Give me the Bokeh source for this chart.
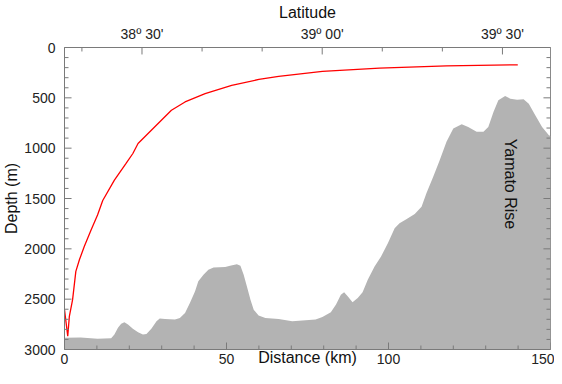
import math
from bokeh.plotting import figure
from bokeh.models import LinearAxis, Range1d, FixedTicker, Label
from bokeh.embed import file_html
from bokeh.resources import INLINE

# Bathymetry profile (distance km, depth m)
bathy_km = [0, 5.0, 10.2, 14.4, 15.4, 16.5, 17.5, 18.5, 19.6, 21.1, 22.7, 24.2, 25.3,
            26.8, 28.4, 29.4, 31.0, 34.1, 35.6, 37.2, 38.7, 40.3, 41.3, 42.9, 44.4,
            46.0, 49.6, 51.1, 53.2, 54.3, 55.3, 56.3, 57.4, 58.4, 59.9, 62.0, 66.1,
            70.3, 77.5, 79.6, 82.2, 83.8, 85.3, 86.3, 87.4, 88.9, 90.5, 92.0, 93.6,
            95.7, 97.7, 99.8, 101.9, 103.4, 105.5, 108.1, 110.2, 111.7, 113.8, 115.8,
            117.9, 120.0, 122.6, 124.6, 127.2, 129.3, 130.8, 132.4, 133.9, 136.0,
            137.6, 139.7, 141.7, 143.3, 145.3, 147.4, 149.5, 150]
bathy_depth = [2884, 2880, 2894, 2888, 2851, 2785, 2743, 2730, 2752, 2795, 2828, 2851, 2845,
               2795, 2719, 2693, 2696, 2703, 2686, 2637, 2538, 2422, 2323, 2257, 2208,
               2185, 2181, 2168, 2152, 2168, 2257, 2373, 2505, 2604, 2663, 2686, 2696,
               2719, 2703, 2677, 2631, 2554, 2455, 2432, 2472, 2531, 2488, 2432, 2307,
               2175, 2076, 1944, 1795, 1746, 1706, 1653, 1581, 1449, 1284, 1119,
               937, 805, 762, 789, 838, 838, 789, 640, 525, 482,
               508, 518, 515, 558, 673, 789, 871, 880]

# Red profile line (distance km, depth m)
red_km = [0, 1.0, 1.5, 2.5, 3.5, 4.6, 6.1, 8.2, 10.2, 11.8, 15.4, 19.0, 21.1,
          22.7, 26.8, 33.0, 37.2, 43.4, 51.6, 60.0, 66.1, 79.6, 97.2, 117.9, 139.9]
red_depth = [2604, 2868, 2670, 2505, 2224, 2109, 1977, 1812, 1663, 1520, 1317, 1152,
             1053, 954, 822, 624, 541, 459, 376, 317, 287, 238, 205, 182, 172]

# Axis ticks
dist_ticks = [0, 50, 100, 150]
dist_minor = [10, 20, 30, 40, 60, 70, 80, 90, 110, 120, 130, 140]
depth_ticks = [0, 500, 1000, 1500, 2000, 2500, 3000]
depth_minor = [d for d in range(100, 3000, 100) if d % 500]
lat_ticks = [2310, 2340, 2370]          # latitude in minutes
lat_minor = [2300, 2320, 2330, 2350, 2360]
lat_labels = ["38º 30'", "39º 00'", "39º 30'"]
lat_range = (2297.1, 2378.0)

FONT = "Liberation Sans"
AX = "#7a7a7a"
X0, X1, Y0, Y1 = 0, 150, 3000, 0

p = figure(width=554, height=368, x_range=(X0, X1), y_range=(Y0, Y1),
           output_backend="svg", toolbar_location=None,
           min_border_left=59, min_border_right=4, min_border_top=39,
           min_border_bottom=17)
p.grid.visible = False
p.outline_line_color = "#8a8a8a"
p.outline_line_width = 1
p.outline_line_alpha = 1.0
p.background_fill_color = "white"
p.border_fill_color = "white"
p.extra_x_ranges = {"lat": Range1d(*lat_range)}

p.varea(x=bathy_km, y1=bathy_depth, y2=[Y0] * len(bathy_km),
        fill_color="#b3b3b3", fill_alpha=1.0)
p.line(red_km, red_depth, line_color="#ff0000", line_width=1.3)

# inward ticks on all four sides (lengths: ~7 px major, ~4 px minor)
KM_PX = 150 / 483.0     # km per pixel of the frame
M_PX = 3000 / 303.0     # m per pixel of the frame
MAJ, MIN = 7, 4

for ticks, n in ((dist_ticks, MAJ), (dist_minor, MIN)):
    p.segment(x0=ticks, y0=[Y0] * len(ticks), x1=ticks,
              y1=[Y0 - n * M_PX] * len(ticks), line_color=AX, line_width=1)

for ticks, n in ((lat_ticks, MAJ), (lat_minor, MIN)):
    p.segment(x0=ticks, y0=[Y1] * len(ticks), x1=ticks,
              y1=[Y1 + n * M_PX] * len(ticks), line_color=AX, line_width=1,
              x_range_name="lat")

for ticks, n in ((depth_ticks, MAJ), (depth_minor, MIN)):
    p.segment(x0=[X0] * len(ticks), y0=ticks, x1=[X0 + n * KM_PX] * len(ticks),
              y1=ticks, line_color=AX, line_width=1)
    p.segment(x0=[X1] * len(ticks), y0=ticks, x1=[X1 - n * KM_PX] * len(ticks),
              y1=ticks, line_color=AX, line_width=1)


def style(ax):
    ax.axis_line_color = AX
    ax.major_tick_line_color = None
    ax.minor_tick_line_color = None
    ax.major_tick_in = 0
    ax.major_tick_out = 0
    ax.minor_tick_in = 0
    ax.minor_tick_out = 0
    ax.major_label_text_font = FONT
    ax.major_label_text_font_size = "14px"
    ax.major_label_text_color = "#222222"
    ax.axis_label_text_font = FONT
    ax.axis_label_text_font_size = "16px"
    ax.axis_label_text_font_style = "normal"
    ax.axis_label_text_color = "#111111"


xa = p.xaxis[0]
style(xa)
xa.ticker = FixedTicker(ticks=dist_ticks)
xa.major_label_standoff = 4
xa.axis_label = "Distance (km)"
xa.axis_label_standoff = -18

ya = p.yaxis[0]
style(ya)
ya.ticker = FixedTicker(ticks=depth_ticks)
ya.axis_label = "Depth (m)"
ya.major_label_standoff = 9
ya.axis_label_standoff = 1

ta = LinearAxis(x_range_name="lat", ticker=FixedTicker(ticks=lat_ticks))
style(ta)
ta.major_label_overrides = {t: s for t, s in zip(lat_ticks, lat_labels)}
ta.axis_label = "Latitude"
ta.major_label_standoff = 6
ta.axis_label_standoff = 2
p.add_layout(ta, "above")

p.add_layout(Label(x=137.6, y=1356, text="Yamato Rise", angle=-math.pi / 2,
                   text_font=FONT, text_font_size="16px", text_align="center",
                   text_baseline="middle", text_color="#111111"))

open("out.html", "w").write(file_html(p, INLINE))
